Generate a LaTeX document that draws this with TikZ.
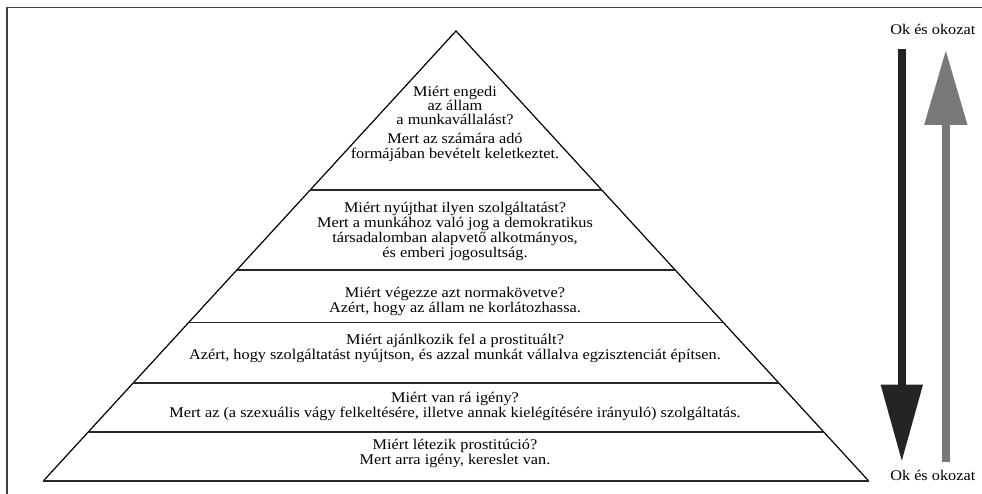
\documentclass[tikz,border=0pt]{standalone}
\usepackage{fontspec}
\setmainfont[FakeStretch=1.1]{Liberation Serif}
\usetikzlibrary{arrows.meta,calc}

\tikzset{
	band/.style={line width=1.6pt, color=black!85},
	side/.style={line width=1.2pt},
	txt/.style={align=center, inner sep=0pt, font=\fontsize{14.8}{15}\selectfont},
	causedown/.style={line width=8pt, color=black!86, -{Triangle[width=40pt,length=77pt]}},
	causeup/.style={line width=8pt, color=black!53, -{Triangle[width=41pt,length=75pt]}}
}

\begin{document}
\begin{tikzpicture}[x=1pt, y=-1pt]
	%%%%% START %%%%%
	\useasboundingbox (0, 0) rectangle (982, 494);
	
	\draw[line width=1.5pt, color=black!75] (7, 494) -- (7, 7.3) -- (982, 7.3);
	
	% pyramid
	\coordinate (top) at (456, 31);
	\coordinate (bl) at (43.3, 481);
	\coordinate (br) at (868.7, 481);
	\draw[side] (bl) -- (top) -- (br);
	\draw[band] (bl) -- (br);
	\foreach \y in {190, 270, 322.7, 383.3, 431.7}
		\draw[band] ($(top)!{(\y-31)/450}!(bl)$) -- ($(top)!{(\y-31)/450}!(br)$);
	
	\node[txt, font=\fontsize{14.8}{14}\selectfont] (why1) at (455, 105.2) {Miért engedi\\az állam\\a munkavállalást?};
	\node[txt] (because1) at (455, 147.3) {Mert az számára adó\\formájában bevételt keletkeztet.};
	\node[txt] (level2) at (455, 231.8) {Miért nyújthat ilyen szolgáltatást?\\Mert a munkához való jog a demokratikus\\társadalomban alapvető alkotmányos,\\és emberi jogosultság.};
	\node[txt] (level3) at (455, 301.8) {Miért végezze azt normakövetve?\\Azért, hogy az állam ne korlátozhassa.};
	\node[txt] (level4) at (455, 348.5) {Miért ajánlkozik fel a prostituált?\\Azért, hogy szolgáltatást nyújtson, és azzal munkát vállalva egzisztenciát építsen.};
	\node[txt] (level5) at (455, 406) {Miért van rá igény?\\Mert az (a szexuális vágy felkeltésére, illetve annak kielégítésére irányuló) szolgáltatás.};
	\node[txt] (level6) at (455, 453.5) {Miért létezik prostitúció?\\Mert arra igény, kereslet van.};
	
	% cause and effect
	\node[txt, anchor=base] (oktop) at (932.8, 35) {Ok és okozat};
	\node[txt, anchor=base] (okbot) at (932.8, 480.5) {Ok és okozat};
	
	\coordinate (downstart) at (901.8, 49.3);
	\coordinate (downend) at (901.8, 461.7);
	\draw[causedown] (downstart) -- (downend);
	
	\coordinate (upstart) at (945.8, 461.7);
	\coordinate (upend) at (945.8, 50);
	\draw[causeup] (upstart) -- (upend);
	%%%%% END %%%%%
\end{tikzpicture}
\end{document}
